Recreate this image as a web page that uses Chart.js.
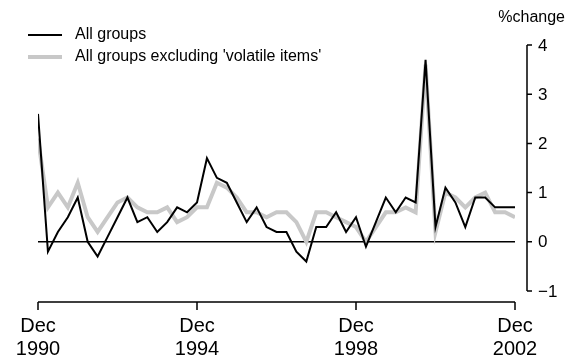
<!DOCTYPE html>
<html>
<head>
<meta charset="utf-8">
<script src="https://cdn.jsdelivr.net/npm/chart.js@4/dist/chart.umd.min.js"></script>
<style>
  html, body { margin: 0; padding: 0; background: #fff; }
  #wrap { width: 567px; height: 363px; position: relative; }
</style>
</head>
<body>
<div id="wrap"><canvas id="c" width="567" height="363"></canvas></div>
<script>
// Quarterly CPI, % change from previous quarter, Dec qtr 1990 to Dec qtr 2002
const allGroups = [
  2.6, -0.2, 0.2, 0.5, 0.9, 0.0, -0.3, 0.1, 0.5, 0.9, 0.4, 0.5, 0.2,
  0.4, 0.7, 0.6, 0.8, 1.7, 1.3, 1.2, 0.8, 0.4, 0.7, 0.3, 0.2, 0.2,
  -0.2, -0.4, 0.3, 0.3, 0.6, 0.2, 0.5, -0.1, 0.4, 0.9, 0.6, 0.9, 0.8,
  3.7, 0.3, 1.1, 0.8, 0.3, 0.9, 0.9, 0.7, 0.7, 0.7
];
const exVolatile = [
  2.1, 0.7, 1.0, 0.7, 1.2, 0.5, 0.2, 0.5, 0.8, 0.9, 0.7, 0.6, 0.6,
  0.7, 0.4, 0.5, 0.7, 0.7, 1.2, 1.1, 0.9, 0.6, 0.6, 0.5, 0.6, 0.6,
  0.4, 0.0, 0.6, 0.6, 0.5, 0.4, 0.3, 0.0, 0.3, 0.6, 0.6, 0.7, 0.6,
  3.6, 0.2, 1.0, 0.9, 0.7, 0.9, 1.0, 0.6, 0.6, 0.5
];
const seriesNames = ['All groups', "All groups excluding 'volatile items'"];
const seriesColors = ['#000000', '#c8c8c8'];

// Category axis: quarter positions; labelled every four years
const xTickIndex = [0, 16, 32, 48];
const xTickMonth = ['Dec', 'Dec', 'Dec', 'Dec'];
const xTickYear = ['1990', '1994', '1998', '2002'];
const yTicks = [4, 3, 2, 1, 0, -1];
const yTickLabels = ['4', '3', '2', '1', '0', '\u22121'];
const yTitle = '%change';

const FONT = "'Liberation Sans', Arial, sans-serif";

const toPoints = arr => arr.map((v, i) => ({ x: i, y: v }));

// Axes, zero line and legend drawn against the chart's own scales
const framePlugin = {
  id: 'frame',
  beforeDatasetsDraw(chart) {
    const { ctx, chartArea, scales } = chart;
    const y0 = scales.y.getPixelForValue(0);
    ctx.save();
    ctx.strokeStyle = '#000';
    ctx.lineWidth = 1.5;
    ctx.beginPath();
    ctx.moveTo(chartArea.left, y0);
    ctx.lineTo(chartArea.right, y0);
    ctx.stroke();
    ctx.restore();
  },
  afterDatasetsDraw(chart) {
    const { ctx, chartArea, scales } = chart;
    const xs = scales.x, ys = scales.y;
    ctx.save();
    ctx.strokeStyle = '#000';
    ctx.fillStyle = '#000';
    ctx.lineWidth = 1.5;

    // value axis on the right, set apart from the plot
    const ax = chartArea.right + 12;
    const yTop = ys.getPixelForValue(yTicks[0]);
    const yBot = ys.getPixelForValue(yTicks[yTicks.length - 1]);
    ctx.beginPath();
    ctx.moveTo(ax, yTop);
    ctx.lineTo(ax, yBot);
    yTicks.forEach(t => {
      const py = ys.getPixelForValue(t);
      ctx.moveTo(ax, py);
      ctx.lineTo(ax + 5, py);
    });
    ctx.stroke();
    ctx.font = '17px ' + FONT;
    ctx.textAlign = 'left';
    ctx.textBaseline = 'middle';
    yTicks.forEach((t, i) => {
      ctx.fillText(yTickLabels[i], ax + 11, ys.getPixelForValue(t) + 1);
    });
    ctx.font = '16px ' + FONT;
    ctx.textAlign = 'right';
    ctx.fillText(yTitle, 565, 18);

    // time axis below the plot
    const by = chartArea.bottom + 11;
    const xl = xs.getPixelForValue(xTickIndex[0]);
    const xr = xs.getPixelForValue(xTickIndex[xTickIndex.length - 1]);
    ctx.beginPath();
    ctx.moveTo(xl, by);
    ctx.lineTo(xr, by);
    xTickIndex.forEach(t => {
      const px = xs.getPixelForValue(t);
      ctx.moveTo(px, by);
      ctx.lineTo(px, by + 8);
    });
    ctx.stroke();
    ctx.font = '20px ' + FONT;
    ctx.textAlign = 'center';
    xTickIndex.forEach((t, i) => {
      const px = xs.getPixelForValue(t);
      ctx.fillText(xTickMonth[i], px, 326);
      ctx.fillText(xTickYear[i], px, 349);
    });

    // legend
    ctx.font = '16px ' + FONT;
    ctx.textAlign = 'left';
    const rows = [35, 57];
    chart.data.datasets.forEach((ds, i) => {
      ctx.strokeStyle = ds.borderColor;
      ctx.lineWidth = ds.borderWidth;
      ctx.beginPath();
      ctx.moveTo(28, rows[i]);
      ctx.lineTo(62, rows[i]);
      ctx.stroke();
      ctx.fillStyle = '#000';
      ctx.fillText(ds.label, 75, rows[i]);
    });
    ctx.restore();
  }
};

new Chart(document.getElementById('c'), {
  type: 'line',
  data: {
    datasets: [
      { label: seriesNames[0], data: toPoints(allGroups), borderColor: seriesColors[0], borderWidth: 2 },
      { label: seriesNames[1], data: toPoints(exVolatile), borderColor: seriesColors[1], borderWidth: 4 }
    ]
  },
  options: {
    responsive: false,
    animation: false,
    devicePixelRatio: 1,
    layout: { padding: { left: 38, right: 52, top: 45, bottom: 72 } },
    elements: {
      line: { tension: 0, fill: false },
      point: { radius: 0, hoverRadius: 0 }
    },
    plugins: { legend: { display: false }, tooltip: { enabled: false } },
    scales: {
      x: { type: 'linear', min: 0, max: 48, display: false },
      y: { type: 'linear', min: -1, max: 4, display: false }
    }
  },
  plugins: [framePlugin]
});
</script>
</body>
</html>
